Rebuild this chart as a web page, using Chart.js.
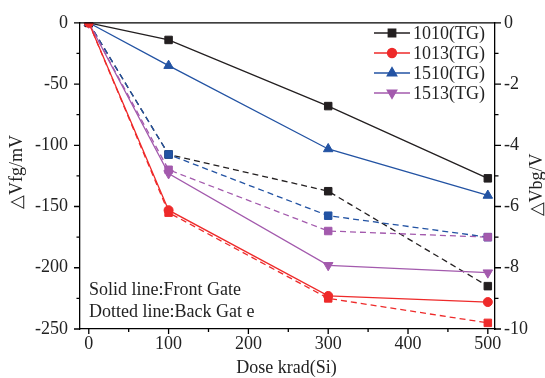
<!DOCTYPE html>
<html>
<head>
<meta charset="utf-8">
<script src="https://cdn.jsdelivr.net/npm/chart.js@4"></script>
<style>
  html, body { margin: 0; padding: 0; background: #fff; }
  #wrap { width: 545px; height: 378px; }
</style>
</head>
<body>
<div id="wrap"><canvas id="chart"></canvas></div>
<script>
// dose points, krad(Si)
const doses = [0, 100, 300, 500];

// front gate shift, mV (solid lines, left axis)
const fg1010 = [0, -14, -68, -127];
const fg1013 = [0, -153, -223, -228];
const fg1510 = [0, -35, -103, -141];
const fg1513 = [0, -123, -198, -204];

// back gate shift, V (dashed lines, right axis)
const bg1010 = [0, -4.3, -5.5, -8.6];
const bg1013 = [0, -6.2, -9.0, -9.8];
const bg1510 = [0, -4.3, -6.3, -7.0];
const bg1513 = [0, -4.8, -6.8, -7.0];

const seriesNames = ["1010(TG)", "1013(TG)", "1510(TG)", "1513(TG)"];

const xTicks = [0, 100, 200, 300, 400, 500];
const xMinor = [50, 150, 250, 350, 450];
const yTicks = [0, -50, -100, -150, -200, -250];
const yMinor = [-25, -75, -125, -175, -225];
const y2Ticks = [0, -2, -4, -6, -8, -10];
const y2Minor = [-1, -3, -5, -7, -9];

const BLACK = "#231f20", RED = "#ee2a2a", BLUE = "#2353a3", PURPLE = "#a35aad";
const FONT = "'Liberation Serif', 'Times New Roman', serif";

function pts(ys) {
  return doses.map((d, i) => ({ x: d, y: ys[i] }));
}

function solid(label, ys, color, style, rot, r, order) {
  return {
    label: label, data: pts(ys), yAxisID: "y",
    borderColor: color, backgroundColor: color, borderWidth: 1.3,
    pointStyle: style, pointRotation: rot, pointRadius: r,
    pointBorderWidth: 1, pointBackgroundColor: color, pointBorderColor: color,
    tension: 0, order: order
  };
}
function dashed(ys, color, order) {
  return {
    label: "", data: pts(ys), yAxisID: "y2",
    borderColor: color, backgroundColor: color, borderWidth: 1.3, borderDash: [6, 4],
    pointStyle: "rect", pointRadius: 5.3, pointBorderWidth: 1,
    pointBackgroundColor: color, pointBorderColor: color,
    tension: 0, order: order, legendHidden: true
  };
}

const datasets = [
  solid(seriesNames[0], fg1010, BLACK, "rect", 0, 5.3, 4),
  solid(seriesNames[1], fg1013, RED, "circle", 0, 4.5, 1),
  solid(seriesNames[2], fg1510, BLUE, "triangle", 0, 5.5, 3),
  solid(seriesNames[3], fg1513, PURPLE, "triangle", 180, 5.5, 2),
  dashed(bg1010, BLACK, 8),
  dashed(bg1013, RED, 5),
  dashed(bg1510, BLUE, 7),
  dashed(bg1513, PURPLE, 6)
];

function fixTicks(vals) {
  return function (scale) { scale.ticks = vals.map(v => ({ value: v })); };
}

// tick marks, top frame line, titles, notes and legend
const decor = {
  id: "decor",
  afterDraw(chart) {
    const ctx = chart.ctx, a = chart.chartArea;
    const sx = chart.scales.x, sy = chart.scales.y, sy2 = chart.scales.y2;
    ctx.save();
    ctx.strokeStyle = "#000";
    ctx.lineWidth = 1.3;
    ctx.beginPath();
    ctx.moveTo(a.left, a.top); ctx.lineTo(a.right, a.top);
    xTicks.forEach(v => { const p = sx.getPixelForValue(v); ctx.moveTo(p, a.bottom); ctx.lineTo(p, a.bottom + 5); });
    xMinor.forEach(v => { const p = sx.getPixelForValue(v); ctx.moveTo(p, a.bottom); ctx.lineTo(p, a.bottom + 3); });
    yTicks.forEach(v => { const p = sy.getPixelForValue(v); ctx.moveTo(a.left, p); ctx.lineTo(a.left - 6, p); });
    yMinor.forEach(v => { const p = sy.getPixelForValue(v); ctx.moveTo(a.left, p); ctx.lineTo(a.left - 3.5, p); });
    y2Ticks.forEach(v => { const p = sy2.getPixelForValue(v); ctx.moveTo(a.right, p); ctx.lineTo(a.right + 6, p); });
    y2Minor.forEach(v => { const p = sy2.getPixelForValue(v); ctx.moveTo(a.right, p); ctx.lineTo(a.right + 3.5, p); });
    ctx.stroke();

    ctx.fillStyle = "#222";
    ctx.font = "18px " + FONT;
    ctx.textBaseline = "middle";
    ctx.textAlign = "center";
    ctx.fillText("Dose krad(Si)", (a.left + a.right) / 2 - 1, 368);

    ctx.save();
    ctx.translate(17, 172);
    ctx.rotate(-Math.PI / 2);
    ctx.fillText("\u25B3Vfg/mV", 0, 0);
    ctx.restore();
    ctx.save();
    ctx.translate(537, 185);
    ctx.rotate(-Math.PI / 2);
    ctx.fillText("\u25B3Vbg/V", 0, 0);
    ctx.restore();

    ctx.textAlign = "left";
    ctx.fillText("Solid line:Front Gate", 89, 290);
    ctx.fillText("Dotted line:Back Gat e", 89, 312);

    // legend
    const rows = [33, 53, 73, 93];
    for (let i = 0; i < 4; i++) {
      const ds = chart.data.datasets[i];
      const y = rows[i];
      ctx.strokeStyle = ds.borderColor;
      ctx.lineWidth = 1.3;
      ctx.beginPath();
      ctx.moveTo(374, y); ctx.lineTo(410, y);
      ctx.stroke();
      ctx.fillStyle = ds.borderColor;
      Chart.helpers.drawPoint(ctx, {
        pointStyle: ds.pointStyle, radius: ds.pointRadius,
        rotation: ds.pointRotation, borderWidth: 1
      }, 392, y);
      ctx.fillStyle = "#222";
      ctx.fillText(ds.label, 413, y + 1);
    }
    ctx.restore();
  }
};

new Chart(document.getElementById("chart"), {
  type: "line",
  data: { datasets: datasets },
  options: {
    responsive: true,
    maintainAspectRatio: false,
    animation: false,
    layout: { padding: { top: 19, left: 0, right: 0, bottom: 0 } },
    plugins: { legend: { display: false }, tooltip: { enabled: false } },
    scales: {
      x: {
        type: "linear", min: -11, max: 509,
        afterBuildTicks: fixTicks(xTicks),
        afterFit(s) { s.height = 49; },
        grid: { display: false, drawTicks: false },
        border: { display: true, color: "#000", width: 1.3 },
        ticks: { color: "#222", font: { family: FONT, size: 18 }, padding: 4, maxRotation: 0, autoSkip: false,
          callback: v => String(v) }
      },
      y: {
        position: "left", min: -250, max: 0,
        afterBuildTicks: fixTicks(yTicks),
        afterFit(s) { s.width = 80; },
        grid: { display: false, drawTicks: false },
        border: { display: true, color: "#000", width: 1.3 },
        ticks: { color: "#222", font: { family: FONT, size: 18 }, padding: 12, autoSkip: false,
          callback: v => String(v) }
      },
      y2: {
        position: "right", min: -10, max: 0,
        afterBuildTicks: fixTicks(y2Ticks),
        afterFit(s) { s.width = 50; },
        grid: { display: false, drawTicks: false },
        border: { display: true, color: "#000", width: 1.3 },
        ticks: { color: "#222", font: { family: FONT, size: 18 }, padding: 9, autoSkip: false,
          callback: v => String(v) }
      }
    }
  },
  plugins: [decor]
});
</script>
</body>
</html>
